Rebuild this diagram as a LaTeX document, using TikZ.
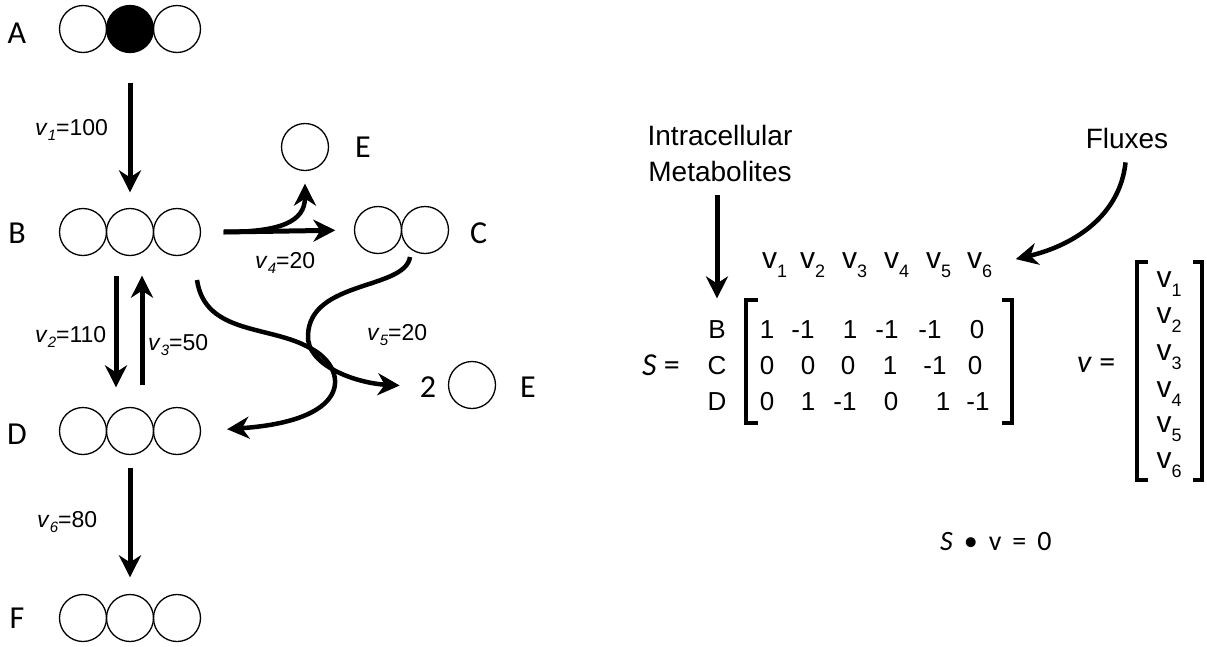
\documentclass[tikz,border=0pt]{standalone}
\usepackage{fontspec}
\setmainfont{Liberation Sans}
\newfontfamily\calib{Carlito}
\usetikzlibrary{arrows.meta}
\newcommand\fs[1]{\fontsize{#1}{#1}\selectfont}
\newcommand\rv[2]{\textit{v}\raisebox{-5pt}{\fs{15}\textit{#1}}=#2}
\newcommand\mv[1]{v\raisebox{-9pt}{\fs{18}#1}}
\begin{document}
\begin{tikzpicture}[x=1pt,y=-1pt,
 circ/.style={circle,draw,line width=1.3pt,minimum size=47pt,inner sep=0pt},
 lab/.style={font=\calib\fs{32},anchor=base,inner sep=0pt},
 rl/.style={font=\fs{23},anchor=base west,inner sep=0pt},
 mx/.style={font=\fs{26},anchor=base,inner sep=0pt},
 vr/.style={font=\fs{30},anchor=base west,inner sep=0pt},
 tx/.style={font=\fs{28},anchor=base,inner sep=0pt},
 arr/.style={line width=5pt,-{Stealth[length=22pt,width=22pt,inset=7pt]}},
 crv/.style={line width=4.5pt,-{Stealth[length=22pt,width=22pt,inset=7pt]}},
 brk/.style={line width=4pt}]
\useasboundingbox (0,0) rectangle (1207,646);
% ---------- left: metabolites ----------
\node[circ] (A1) at (83,29) {};
\node[circ,fill=black] (A2) at (130,29) {};
\node[circ] (A3) at (177,29) {};
\node[lab] (Al) at (17,43) {A};
\node[circ] (B1) at (83,232) {};
\node[circ] (B2) at (130,232) {};
\node[circ] (B3) at (177,232) {};
\node[lab] (Bl) at (17,243) {B};
\node[circ] (D1) at (83,431) {};
\node[circ] (D2) at (130,431) {};
\node[circ] (D3) at (177,431) {};
\node[lab] (Dl) at (17,444) {D};
\node[circ] (F1) at (83,618) {};
\node[circ] (F2) at (130,618) {};
\node[circ] (F3) at (177,618) {};
\node[lab] (Fl) at (17,628) {F};
\node[circ] (E1) at (305,147) {};
\node[lab,anchor=base west] (El) at (355,157) {E};
\node[circ] (C1) at (378,230) {};
\node[circ] (C2) at (425,230) {};
\node[lab,anchor=base west] (Cl) at (470,243) {C};
\node[circ] (E2) at (472,385) {};
\node[lab] (two) at (428,397) {2};
\node[lab,anchor=base west] (El2) at (520,397) {E};
% ---------- reactions ----------
\draw[arr,shorten <=29.5pt,shorten >=15.5pt] (A2.south) -- (B2.north);
\draw[arr,shorten <=19.5pt,shorten >=19.5pt] ([xshift=-14pt]B2.south) -- ([xshift=-14pt]D2.north);
\draw[arr,shorten <=21.5pt,shorten >=19.5pt] ([xshift=12pt]D2.north) -- ([xshift=12pt]B2.south);
\draw[arr,shorten <=12.5pt,shorten >=16.5pt] (D2.south) -- (F2.north);
\coordinate (v4s) at ([xshift=22.5pt]B3.east);
\draw[arr,shorten >=18.5pt] (v4s) -- (C1.west);
\draw[crv,shorten >=12.5pt] (v4s) .. controls (280,232) and (305,222) .. (E1.south);
\coordinate (k1) at (197,280);
\draw[crv,shorten >=26pt] (k1) .. controls (205,335) and (270,325) .. (310,348) .. controls (345,365) and (360,420) .. (D3.east);
\coordinate (k2) at (410,257);
\draw[crv,shorten >=20pt] (k2) .. controls (405,290) and (310,280) .. (308,335) .. controls (306,365) and (355,383) .. (two.west);
\node[rl] (l1) at (35,135) {\rv{1}{100}};
\node[rl] (l2) at (35,342) {\rv{2}{110}};
\node[rl] (l3) at (148,350) {\rv{3}{50}};
\node[rl] (l4) at (255,268) {\rv{4}{20}};
\node[rl] (l5) at (367,340) {\rv{5}{20}};
\node[rl] (l6) at (37,527) {\rv{6}{80}};
% ---------- right: stoichiometric matrix ----------
\node[tx] (intra1) at (720,145) {Intracellular};
\node[tx] (intra2) at (720,181) {Metabolites};
\node[tx] (flux) at (1127,148) {Fluxes};
\node[vr] (c1) at (762,268) {\mv{1}};
\node[vr] (c2) at (800,268) {\mv{2}};
\node[vr] (c3) at (842,268) {\mv{3}};
\node[vr] (c4) at (884,268) {\mv{4}};
\node[vr] (c5) at (926,268) {\mv{5}};
\node[vr] (c6) at (967,268) {\mv{6}};
\node[mx] (rB) at (717,338) {B};
\node[mx] (rC) at (717,374) {C};
\node[mx] (rD) at (717,410) {D};
\draw[arr,shorten <=14pt,shorten >=21.5pt] (rB.north |- intra2.south) -- (rB.north);
\draw[crv,shorten <=14pt,shorten >=24pt] (flux.south) .. controls (1120,215) and (1075,245) .. (c6.east);
% row B
\node[mx] (m11) at (767,338) {1};
\node[mx] (m12) at (803,338) {-1};
\node[mx] (m13) at (850,338) {1};
\node[mx] (m14) at (887,338) {-1};
\node[mx] (m15) at (930,338) {-1};
\node[mx] (m16) at (977,338) {0};
% row C
\node[mx] (m21) at (767,374) {0};
\node[mx] (m22) at (808,374) {0};
\node[mx] (m23) at (848,374) {0};
\node[mx] (m24) at (890,374) {1};
\node[mx] (m25) at (935,374) {-1};
\node[mx] (m26) at (975,374) {0};
% row D
\node[mx] (m31) at (767,410) {0};
\node[mx] (m32) at (808,410) {1};
\node[mx] (m33) at (845,410) {-1};
\node[mx] (m34) at (891,410) {0};
\node[mx] (m35) at (943,410) {1};
\node[mx] (m36) at (978,410) {-1};
\draw[brk] (758,300) -- (745.5,300) -- (745.5,423) -- (758,423);
\draw[brk] (1002,300) -- (1012,300) -- (1012,423) -- (1002,423);
\node[lab,anchor=base west] (Seq) at (642,375) {\textit{S} =};
% ---------- flux vector ----------
\node[lab,anchor=base west] (veq) at (1077,372) {\textit{v} =};
\node[vr,anchor=base] (w1) at (1169,287) {\mv{1}};
\node[vr,anchor=base] (w2) at (1169,323) {\mv{2}};
\node[vr,anchor=base] (w3) at (1169,360) {\mv{3}};
\node[vr,anchor=base] (w4) at (1169,397) {\mv{4}};
\node[vr,anchor=base] (w5) at (1169,432) {\mv{5}};
\node[vr,anchor=base] (w6) at (1169,468) {\mv{6}};
\draw[brk] (1148,262) -- (1137,262) -- (1137,480) -- (1148,480);
\draw[brk] (1193,262) -- (1202,262) -- (1202,480) -- (1193,480);
\node[font=\calib\fs{28},anchor=base west,inner sep=0pt] (sv) at (940,550) {\textit{S}\hspace{11pt}\textbullet\hspace{11pt}v\hspace{11pt}=\hspace{11pt}0};
\end{tikzpicture}
\end{document}
